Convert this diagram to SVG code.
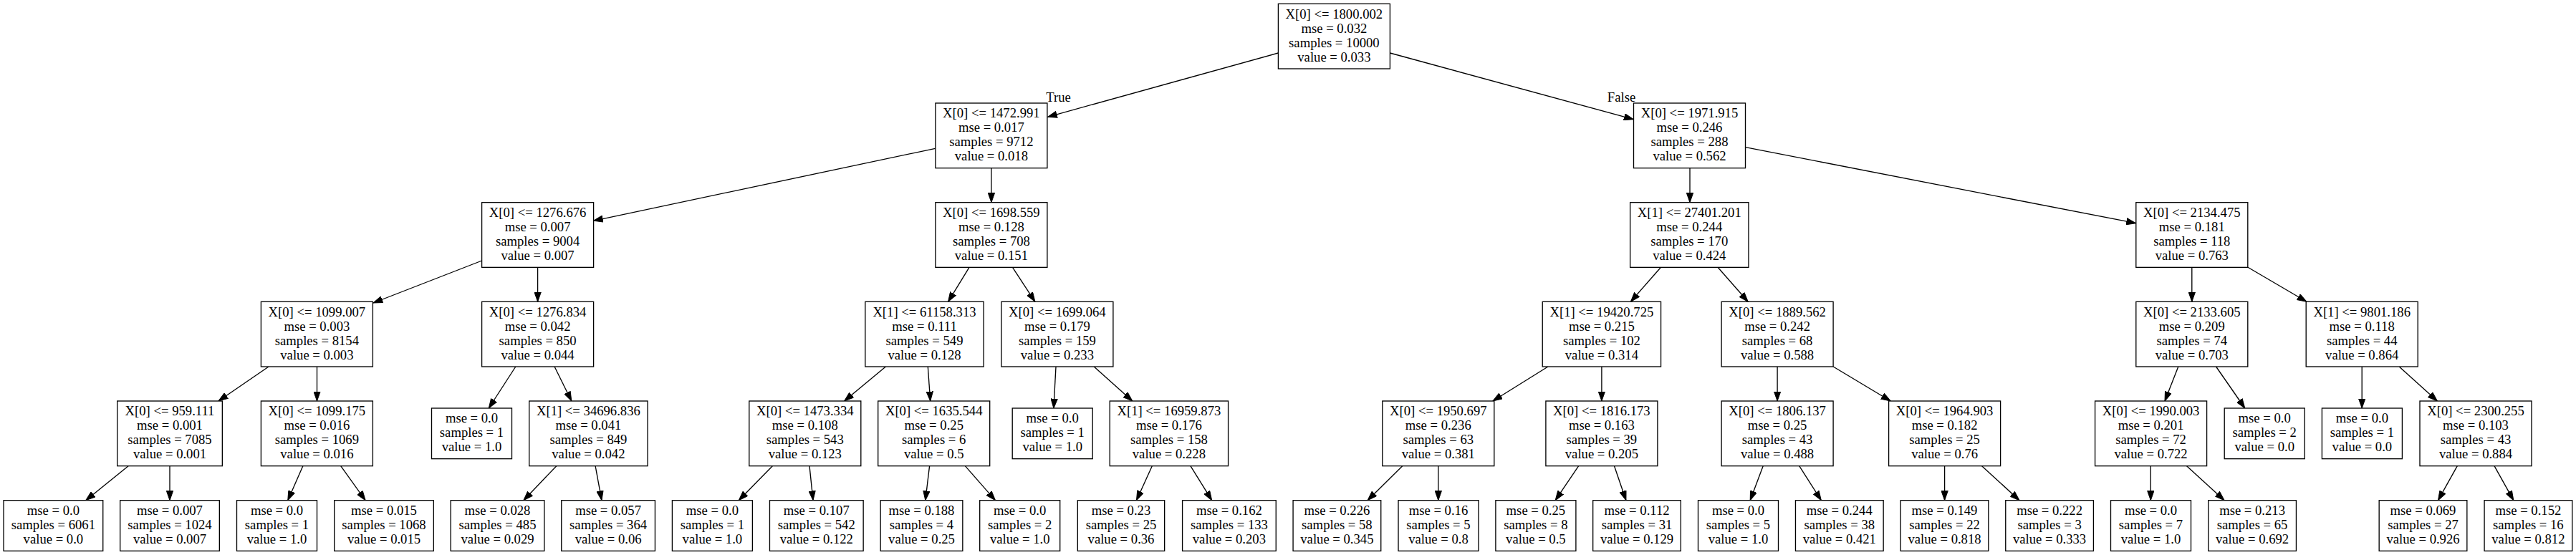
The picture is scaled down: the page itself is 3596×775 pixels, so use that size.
<svg xmlns="http://www.w3.org/2000/svg" width="3596" height="775" viewBox="0 0 3596 775">
<style>
.node rect{fill:#fff;stroke:#000;stroke-width:1.33}
text{font-family:"Liberation Serif","Times New Roman",serif;font-size:18.67px;text-anchor:middle;fill:#000}
.edges path{stroke:#000;stroke-width:1.33;fill:none;marker-end:url(#arr)}
</style>
<defs>
<marker id="arr" markerUnits="userSpaceOnUse" viewBox="0 -5 14 10" refX="13.33" refY="0" markerWidth="14" markerHeight="10" orient="auto">
<path d="M0,-4.67 L13.33,0 L0,4.67 Z" fill="#000" stroke="#000" stroke-width="1"/>
</marker>
</defs>
<rect width="3596" height="775" fill="#fff"/>
<g class="edges">
<path d="M1784.3,74 L1462.5,163.3"/>
<path d="M1940.4,74 L2280.2,166.7"/>
<path d="M1305.6,207.3 L828.5,308.3"/>
<path d="M1383.9,234.7 L1383.9,282.7"/>
<path d="M2359,234.7 L2359,282.7"/>
<path d="M2436.7,205.7 L2981.6,311.7"/>
<path d="M672.7,364 L521,423"/>
<path d="M750.6,373.3 L750.6,421.3"/>
<path d="M1353,373.3 L1323.6,421.3"/>
<path d="M1413.5,373.3 L1444.9,421.3"/>
<path d="M2318.5,373.3 L2276.4,421.3"/>
<path d="M2398,373.3 L2440.2,421.3"/>
<path d="M3059.8,373.3 L3059.8,421.3"/>
<path d="M3138,373.3 L3219.9,421.3"/>
<path d="M375,512 L305,560"/>
<path d="M442.5,512 L442.5,560"/>
<path d="M719.8,512 L682.3,570"/>
<path d="M774.1,512 L797.8,560"/>
<path d="M1236.4,512 L1178.6,560"/>
<path d="M1295.3,512 L1298.7,560"/>
<path d="M1474,512 L1470.9,570"/>
<path d="M1527.2,512 L1580.8,560"/>
<path d="M2160.9,512 L2083.9,560"/>
<path d="M2235.9,512 L2235.9,560"/>
<path d="M2481.1,512 L2481.1,560"/>
<path d="M2559.2,512 L2639.2,560"/>
<path d="M3040.8,512 L3022,560"/>
<path d="M3093.6,512 L3133.8,570"/>
<path d="M3297.2,512 L3297.2,570"/>
<path d="M3349.2,512 L3402.4,560"/>
<path d="M179.1,650.67 L119.8,698.67"/>
<path d="M237,650.67 L237,698.67"/>
<path d="M422.8,650.67 L401.8,698.67"/>
<path d="M475.7,650.67 L510.1,698.67"/>
<path d="M776.8,650.67 L730.9,698.67"/>
<path d="M831.1,650.67 L839.9,698.67"/>
<path d="M1078.3,650.67 L1031.3,698.67"/>
<path d="M1130,650.67 L1135,698.67"/>
<path d="M1297.6,650.67 L1291.8,698.67"/>
<path d="M1347.3,650.67 L1389.4,698.67"/>
<path d="M1608.3,650.67 L1586.5,698.67"/>
<path d="M1661.9,650.67 L1691.7,698.67"/>
<path d="M1957.7,650.67 L1909.1,698.67"/>
<path d="M2007.8,650.67 L2007.8,698.67"/>
<path d="M2203.7,650.67 L2171.2,698.67"/>
<path d="M2253.5,650.67 L2269.9,698.67"/>
<path d="M2461.2,650.67 L2443.2,698.67"/>
<path d="M2511.7,650.67 L2542.3,698.67"/>
<path d="M2714.6,650.67 L2714.6,698.67"/>
<path d="M2766.6,650.67 L2819,698.67"/>
<path d="M3002.3,650.67 L3002.3,698.67"/>
<path d="M3052.6,650.67 L3105.1,698.67"/>
<path d="M3430.3,650.67 L3403.5,698.67"/>
<path d="M3482,650.67 L3508.8,698.67"/>
<text x="1477.5" y="142">True</text>
<text x="2263.5" y="142">False</text>
</g>

<g id="n0" class="node"><rect x="1784.4" y="5.33" width="156" height="90.67"/><text x="1862.4" y="25.6"><tspan x="1862.4">X[0] &lt;= 1800.002</tspan><tspan x="1862.4" dy="20">mse = 0.032</tspan><tspan x="1862.4" dy="20">samples = 10000</tspan><tspan x="1862.4" dy="20">value = 0.033</tspan></text></g>

<g id="n1" class="node"><rect x="1305.9" y="144" width="156" height="90.67"/><text x="1383.9" y="164.27"><tspan x="1383.9">X[0] &lt;= 1472.991</tspan><tspan x="1383.9" dy="20">mse = 0.017</tspan><tspan x="1383.9" dy="20">samples = 9712</tspan><tspan x="1383.9" dy="20">value = 0.018</tspan></text></g>
<g id="n2" class="node"><rect x="2280.5" y="144" width="156" height="90.67"/><text x="2358.5" y="164.27"><tspan x="2358.5">X[0] &lt;= 1971.915</tspan><tspan x="2358.5" dy="20">mse = 0.246</tspan><tspan x="2358.5" dy="20">samples = 288</tspan><tspan x="2358.5" dy="20">value = 0.562</tspan></text></g>

<g id="n3" class="node"><rect x="672.6" y="282.67" width="156" height="90.67"/><text x="750.6" y="302.94"><tspan x="750.6">X[0] &lt;= 1276.676</tspan><tspan x="750.6" dy="20">mse = 0.007</tspan><tspan x="750.6" dy="20">samples = 9004</tspan><tspan x="750.6" dy="20">value = 0.007</tspan></text></g>
<g id="n4" class="node"><rect x="1305.9" y="282.67" width="156" height="90.67"/><text x="1383.9" y="302.94"><tspan x="1383.9">X[0] &lt;= 1698.559</tspan><tspan x="1383.9" dy="20">mse = 0.128</tspan><tspan x="1383.9" dy="20">samples = 708</tspan><tspan x="1383.9" dy="20">value = 0.151</tspan></text></g>
<g id="n5" class="node"><rect x="2275.63" y="282.67" width="165.33" height="90.67"/><text x="2358.3" y="302.94"><tspan x="2358.3">X[1] &lt;= 27401.201</tspan><tspan x="2358.3" dy="20">mse = 0.244</tspan><tspan x="2358.3" dy="20">samples = 170</tspan><tspan x="2358.3" dy="20">value = 0.424</tspan></text></g>
<g id="n6" class="node"><rect x="2981.8" y="282.67" width="156" height="90.67"/><text x="3059.8" y="302.94"><tspan x="3059.8">X[0] &lt;= 2134.475</tspan><tspan x="3059.8" dy="20">mse = 0.181</tspan><tspan x="3059.8" dy="20">samples = 118</tspan><tspan x="3059.8" dy="20">value = 0.763</tspan></text></g>

<g id="n7" class="node"><rect x="364.4" y="421.33" width="156" height="90.67"/><text x="442.4" y="441.6"><tspan x="442.4">X[0] &lt;= 1099.007</tspan><tspan x="442.4" dy="20">mse = 0.003</tspan><tspan x="442.4" dy="20">samples = 8154</tspan><tspan x="442.4" dy="20">value = 0.003</tspan></text></g>
<g id="n8" class="node"><rect x="672.6" y="421.33" width="156" height="90.67"/><text x="750.6" y="441.6"><tspan x="750.6">X[0] &lt;= 1276.834</tspan><tspan x="750.6" dy="20">mse = 0.042</tspan><tspan x="750.6" dy="20">samples = 850</tspan><tspan x="750.6" dy="20">value = 0.044</tspan></text></g>
<g id="n9" class="node"><rect x="1207.83" y="421.33" width="165.33" height="90.67"/><text x="1290.5" y="441.6"><tspan x="1290.5">X[1] &lt;= 61158.313</tspan><tspan x="1290.5" dy="20">mse = 0.111</tspan><tspan x="1290.5" dy="20">samples = 549</tspan><tspan x="1290.5" dy="20">value = 0.128</tspan></text></g>
<g id="n10" class="node"><rect x="1397.9" y="421.33" width="156" height="90.67"/><text x="1475.9" y="441.6"><tspan x="1475.9">X[0] &lt;= 1699.064</tspan><tspan x="1475.9" dy="20">mse = 0.179</tspan><tspan x="1475.9" dy="20">samples = 159</tspan><tspan x="1475.9" dy="20">value = 0.233</tspan></text></g>
<g id="n11" class="node"><rect x="2153.23" y="421.33" width="165.33" height="90.67"/><text x="2235.9" y="441.6"><tspan x="2235.9">X[1] &lt;= 19420.725</tspan><tspan x="2235.9" dy="20">mse = 0.215</tspan><tspan x="2235.9" dy="20">samples = 102</tspan><tspan x="2235.9" dy="20">value = 0.314</tspan></text></g>
<g id="n12" class="node"><rect x="2403.1" y="421.33" width="156" height="90.67"/><text x="2481.1" y="441.6"><tspan x="2481.1">X[0] &lt;= 1889.562</tspan><tspan x="2481.1" dy="20">mse = 0.242</tspan><tspan x="2481.1" dy="20">samples = 68</tspan><tspan x="2481.1" dy="20">value = 0.588</tspan></text></g>
<g id="n13" class="node"><rect x="2981.8" y="421.33" width="156" height="90.67"/><text x="3059.8" y="441.6"><tspan x="3059.8">X[0] &lt;= 2133.605</tspan><tspan x="3059.8" dy="20">mse = 0.209</tspan><tspan x="3059.8" dy="20">samples = 74</tspan><tspan x="3059.8" dy="20">value = 0.703</tspan></text></g>
<g id="n14" class="node"><rect x="3219.2" y="421.33" width="156" height="90.67"/><text x="3297.2" y="441.6"><tspan x="3297.2">X[1] &lt;= 9801.186</tspan><tspan x="3297.2" dy="20">mse = 0.118</tspan><tspan x="3297.2" dy="20">samples = 44</tspan><tspan x="3297.2" dy="20">value = 0.864</tspan></text></g>

<g id="n15" class="node"><rect x="163.67" y="560" width="146.67" height="90.67"/><text x="237" y="580.27"><tspan x="237">X[0] &lt;= 959.111</tspan><tspan x="237" dy="20">mse = 0.001</tspan><tspan x="237" dy="20">samples = 7085</tspan><tspan x="237" dy="20">value = 0.001</tspan></text></g>
<g id="n16" class="node"><rect x="364.4" y="560" width="156" height="90.67"/><text x="442.4" y="580.27"><tspan x="442.4">X[0] &lt;= 1099.175</tspan><tspan x="442.4" dy="20">mse = 0.016</tspan><tspan x="442.4" dy="20">samples = 1069</tspan><tspan x="442.4" dy="20">value = 0.016</tspan></text></g>
<g id="n17" class="node"><rect x="602.5" y="570" width="112" height="70.67"/><text x="658.5" y="590.27"><tspan x="658.5">mse = 0.0</tspan><tspan x="658.5" dy="20">samples = 1</tspan><tspan x="658.5" dy="20">value = 1.0</tspan></text></g>
<g id="n18" class="node"><rect x="738.73" y="560" width="165.33" height="90.67"/><text x="821.4" y="580.27"><tspan x="821.4">X[1] &lt;= 34696.836</tspan><tspan x="821.4" dy="20">mse = 0.041</tspan><tspan x="821.4" dy="20">samples = 849</tspan><tspan x="821.4" dy="20">value = 0.042</tspan></text></g>
<g id="n19" class="node"><rect x="1045.8" y="560" width="156" height="90.67"/><text x="1123.8" y="580.27"><tspan x="1123.8">X[0] &lt;= 1473.334</tspan><tspan x="1123.8" dy="20">mse = 0.108</tspan><tspan x="1123.8" dy="20">samples = 543</tspan><tspan x="1123.8" dy="20">value = 0.123</tspan></text></g>
<g id="n20" class="node"><rect x="1225.7" y="560" width="156" height="90.67"/><text x="1303.7" y="580.27"><tspan x="1303.7">X[0] &lt;= 1635.544</tspan><tspan x="1303.7" dy="20">mse = 0.25</tspan><tspan x="1303.7" dy="20">samples = 6</tspan><tspan x="1303.7" dy="20">value = 0.5</tspan></text></g>
<g id="n21" class="node"><rect x="1413.2" y="570" width="112" height="70.67"/><text x="1469.2" y="590.27"><tspan x="1469.2">mse = 0.0</tspan><tspan x="1469.2" dy="20">samples = 1</tspan><tspan x="1469.2" dy="20">value = 1.0</tspan></text></g>
<g id="n22" class="node"><rect x="1549.23" y="560" width="165.33" height="90.67"/><text x="1631.9" y="580.27"><tspan x="1631.9">X[1] &lt;= 16959.873</tspan><tspan x="1631.9" dy="20">mse = 0.176</tspan><tspan x="1631.9" dy="20">samples = 158</tspan><tspan x="1631.9" dy="20">value = 0.228</tspan></text></g>
<g id="n23" class="node"><rect x="1929.8" y="560" width="156" height="90.67"/><text x="2007.8" y="580.27"><tspan x="2007.8">X[0] &lt;= 1950.697</tspan><tspan x="2007.8" dy="20">mse = 0.236</tspan><tspan x="2007.8" dy="20">samples = 63</tspan><tspan x="2007.8" dy="20">value = 0.381</tspan></text></g>
<g id="n24" class="node"><rect x="2157.9" y="560" width="156" height="90.67"/><text x="2235.9" y="580.27"><tspan x="2235.9">X[0] &lt;= 1816.173</tspan><tspan x="2235.9" dy="20">mse = 0.163</tspan><tspan x="2235.9" dy="20">samples = 39</tspan><tspan x="2235.9" dy="20">value = 0.205</tspan></text></g>
<g id="n25" class="node"><rect x="2403.1" y="560" width="156" height="90.67"/><text x="2481.1" y="580.27"><tspan x="2481.1">X[0] &lt;= 1806.137</tspan><tspan x="2481.1" dy="20">mse = 0.25</tspan><tspan x="2481.1" dy="20">samples = 43</tspan><tspan x="2481.1" dy="20">value = 0.488</tspan></text></g>
<g id="n26" class="node"><rect x="2636.6" y="560" width="156" height="90.67"/><text x="2714.6" y="580.27"><tspan x="2714.6">X[0] &lt;= 1964.903</tspan><tspan x="2714.6" dy="20">mse = 0.182</tspan><tspan x="2714.6" dy="20">samples = 25</tspan><tspan x="2714.6" dy="20">value = 0.76</tspan></text></g>
<g id="n27" class="node"><rect x="2924.6" y="560" width="156" height="90.67"/><text x="3002.6" y="580.27"><tspan x="3002.6">X[0] &lt;= 1990.003</tspan><tspan x="3002.6" dy="20">mse = 0.201</tspan><tspan x="3002.6" dy="20">samples = 72</tspan><tspan x="3002.6" dy="20">value = 0.722</tspan></text></g>
<g id="n28" class="node"><rect x="3105.2" y="570" width="112" height="70.67"/><text x="3161.2" y="590.27"><tspan x="3161.2">mse = 0.0</tspan><tspan x="3161.2" dy="20">samples = 2</tspan><tspan x="3161.2" dy="20">value = 0.0</tspan></text></g>
<g id="n29" class="node"><rect x="3241.4" y="570" width="112" height="70.67"/><text x="3297.4" y="590.27"><tspan x="3297.4">mse = 0.0</tspan><tspan x="3297.4" dy="20">samples = 1</tspan><tspan x="3297.4" dy="20">value = 0.0</tspan></text></g>
<g id="n30" class="node"><rect x="3378" y="560" width="156" height="90.67"/><text x="3456" y="580.27"><tspan x="3456">X[0] &lt;= 2300.255</tspan><tspan x="3456" dy="20">mse = 0.103</tspan><tspan x="3456" dy="20">samples = 43</tspan><tspan x="3456" dy="20">value = 0.884</tspan></text></g>

<g id="n31" class="node"><rect x="5.07" y="698.67" width="138.67" height="70.67"/><text x="74.4" y="718.94"><tspan x="74.4">mse = 0.0</tspan><tspan x="74.4" dy="20">samples = 6061</tspan><tspan x="74.4" dy="20">value = 0.0</tspan></text></g>
<g id="n32" class="node"><rect x="167.67" y="698.67" width="138.67" height="70.67"/><text x="237" y="718.94"><tspan x="237">mse = 0.007</tspan><tspan x="237" dy="20">samples = 1024</tspan><tspan x="237" dy="20">value = 0.007</tspan></text></g>
<g id="n33" class="node"><rect x="330.5" y="698.67" width="112" height="70.67"/><text x="386.5" y="718.94"><tspan x="386.5">mse = 0.0</tspan><tspan x="386.5" dy="20">samples = 1</tspan><tspan x="386.5" dy="20">value = 1.0</tspan></text></g>
<g id="n34" class="node"><rect x="466.67" y="698.67" width="138.67" height="70.67"/><text x="536" y="718.94"><tspan x="536">mse = 0.015</tspan><tspan x="536" dy="20">samples = 1068</tspan><tspan x="536" dy="20">value = 0.015</tspan></text></g>
<g id="n35" class="node"><rect x="629.17" y="698.67" width="130.67" height="70.67"/><text x="694.5" y="718.94"><tspan x="694.5">mse = 0.028</tspan><tspan x="694.5" dy="20">samples = 485</tspan><tspan x="694.5" dy="20">value = 0.029</tspan></text></g>
<g id="n36" class="node"><rect x="783.77" y="698.67" width="130.67" height="70.67"/><text x="849.1" y="718.94"><tspan x="849.1">mse = 0.057</tspan><tspan x="849.1" dy="20">samples = 364</tspan><tspan x="849.1" dy="20">value = 0.06</tspan></text></g>
<g id="n37" class="node"><rect x="938.4" y="698.67" width="112" height="70.67"/><text x="994.4" y="718.94"><tspan x="994.4">mse = 0.0</tspan><tspan x="994.4" dy="20">samples = 1</tspan><tspan x="994.4" dy="20">value = 1.0</tspan></text></g>
<g id="n38" class="node"><rect x="1074.47" y="698.67" width="130.67" height="70.67"/><text x="1139.8" y="718.94"><tspan x="1139.8">mse = 0.107</tspan><tspan x="1139.8" dy="20">samples = 542</tspan><tspan x="1139.8" dy="20">value = 0.122</tspan></text></g>
<g id="n39" class="node"><rect x="1229.17" y="698.67" width="114.67" height="70.67"/><text x="1286.5" y="718.94"><tspan x="1286.5">mse = 0.188</tspan><tspan x="1286.5" dy="20">samples = 4</tspan><tspan x="1286.5" dy="20">value = 0.25</tspan></text></g>
<g id="n40" class="node"><rect x="1367.7" y="698.67" width="112" height="70.67"/><text x="1423.7" y="718.94"><tspan x="1423.7">mse = 0.0</tspan><tspan x="1423.7" dy="20">samples = 2</tspan><tspan x="1423.7" dy="20">value = 1.0</tspan></text></g>
<g id="n41" class="node"><rect x="1504.33" y="698.67" width="121.33" height="70.67"/><text x="1565" y="718.94"><tspan x="1565">mse = 0.23</tspan><tspan x="1565" dy="20">samples = 25</tspan><tspan x="1565" dy="20">value = 0.36</tspan></text></g>
<g id="n42" class="node"><rect x="1650.57" y="698.67" width="130.67" height="70.67"/><text x="1715.9" y="718.94"><tspan x="1715.9">mse = 0.162</tspan><tspan x="1715.9" dy="20">samples = 133</tspan><tspan x="1715.9" dy="20">value = 0.203</tspan></text></g>
<g id="n43" class="node"><rect x="1805.07" y="698.67" width="122.67" height="70.67"/><text x="1866.4" y="718.94"><tspan x="1866.4">mse = 0.226</tspan><tspan x="1866.4" dy="20">samples = 58</tspan><tspan x="1866.4" dy="20">value = 0.345</tspan></text></g>
<g id="n44" class="node"><rect x="1952" y="698.67" width="112" height="70.67"/><text x="2008" y="718.94"><tspan x="2008">mse = 0.16</tspan><tspan x="2008" dy="20">samples = 5</tspan><tspan x="2008" dy="20">value = 0.8</tspan></text></g>
<g id="n45" class="node"><rect x="2087.9" y="698.67" width="112" height="70.67"/><text x="2143.9" y="718.94"><tspan x="2143.9">mse = 0.25</tspan><tspan x="2143.9" dy="20">samples = 8</tspan><tspan x="2143.9" dy="20">value = 0.5</tspan></text></g>
<g id="n46" class="node"><rect x="2223.67" y="698.67" width="122.67" height="70.67"/><text x="2285" y="718.94"><tspan x="2285">mse = 0.112</tspan><tspan x="2285" dy="20">samples = 31</tspan><tspan x="2285" dy="20">value = 0.129</tspan></text></g>
<g id="n47" class="node"><rect x="2370.5" y="698.67" width="112" height="70.67"/><text x="2426.5" y="718.94"><tspan x="2426.5">mse = 0.0</tspan><tspan x="2426.5" dy="20">samples = 5</tspan><tspan x="2426.5" dy="20">value = 1.0</tspan></text></g>
<g id="n48" class="node"><rect x="2506.47" y="698.67" width="122.67" height="70.67"/><text x="2567.8" y="718.94"><tspan x="2567.8">mse = 0.244</tspan><tspan x="2567.8" dy="20">samples = 38</tspan><tspan x="2567.8" dy="20">value = 0.421</tspan></text></g>
<g id="n49" class="node"><rect x="2653.17" y="698.67" width="122.67" height="70.67"/><text x="2714.5" y="718.94"><tspan x="2714.5">mse = 0.149</tspan><tspan x="2714.5" dy="20">samples = 22</tspan><tspan x="2714.5" dy="20">value = 0.818</tspan></text></g>
<g id="n50" class="node"><rect x="2799.77" y="698.67" width="122.67" height="70.67"/><text x="2861.1" y="718.94"><tspan x="2861.1">mse = 0.222</tspan><tspan x="2861.1" dy="20">samples = 3</tspan><tspan x="2861.1" dy="20">value = 0.333</tspan></text></g>
<g id="n51" class="node"><rect x="2946.5" y="698.67" width="112" height="70.67"/><text x="3002.5" y="718.94"><tspan x="3002.5">mse = 0.0</tspan><tspan x="3002.5" dy="20">samples = 7</tspan><tspan x="3002.5" dy="20">value = 1.0</tspan></text></g>
<g id="n52" class="node"><rect x="3082.77" y="698.67" width="122.67" height="70.67"/><text x="3144.1" y="718.94"><tspan x="3144.1">mse = 0.213</tspan><tspan x="3144.1" dy="20">samples = 65</tspan><tspan x="3144.1" dy="20">value = 0.692</tspan></text></g>
<g id="n53" class="node"><rect x="3321.17" y="698.67" width="122.67" height="70.67"/><text x="3382.5" y="718.94"><tspan x="3382.5">mse = 0.069</tspan><tspan x="3382.5" dy="20">samples = 27</tspan><tspan x="3382.5" dy="20">value = 0.926</tspan></text></g>
<g id="n54" class="node"><rect x="3468.07" y="698.67" width="122.67" height="70.67"/><text x="3529.4" y="718.94"><tspan x="3529.4">mse = 0.152</tspan><tspan x="3529.4" dy="20">samples = 16</tspan><tspan x="3529.4" dy="20">value = 0.812</tspan></text></g>
</svg>
